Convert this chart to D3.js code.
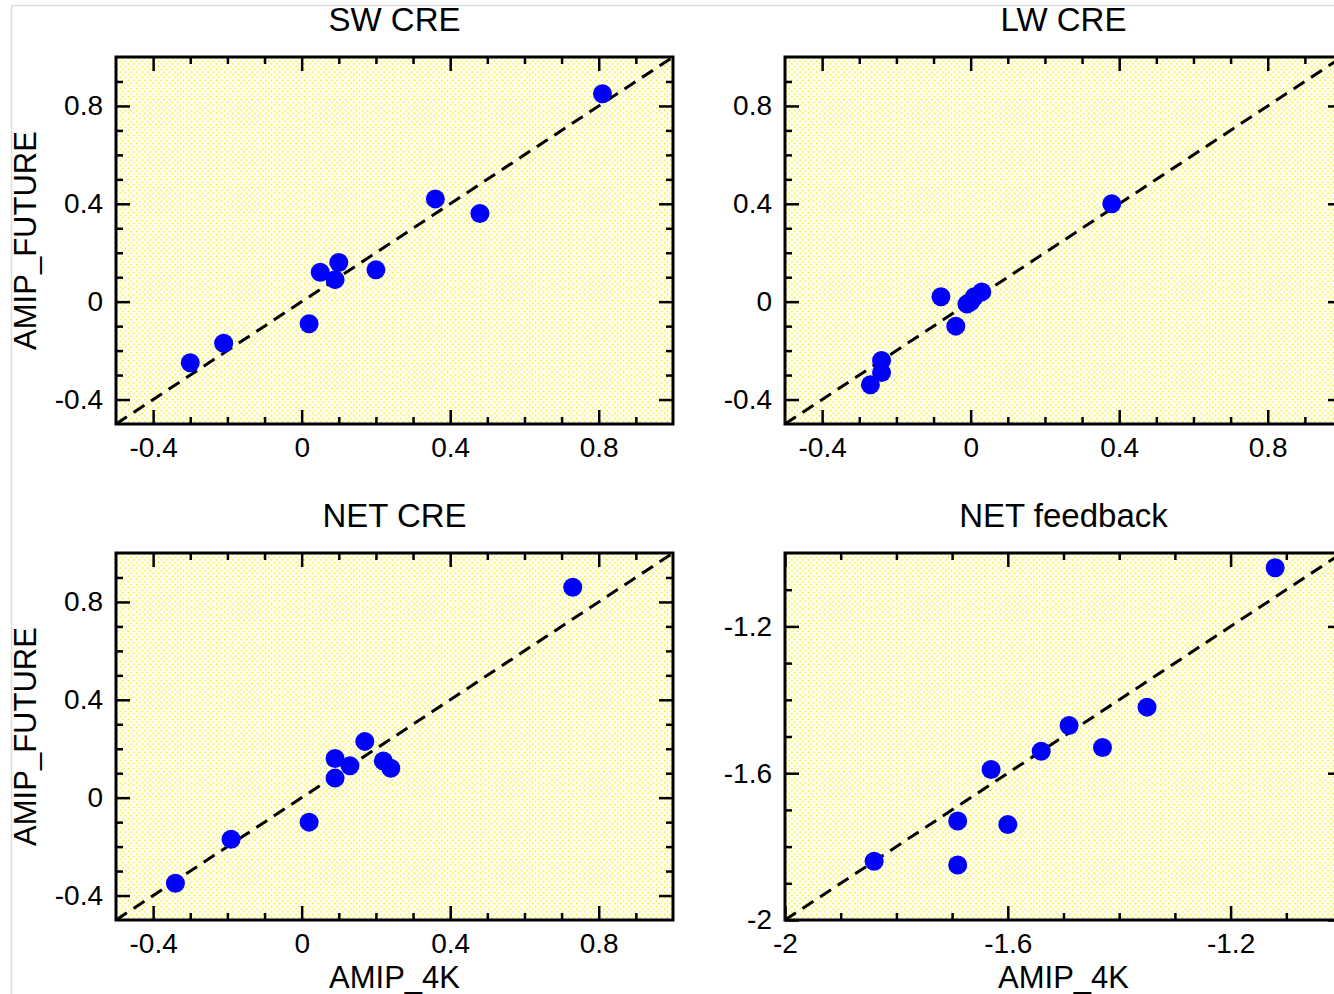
<!DOCTYPE html>
<html>
<head>
<meta charset="utf-8">
<script src="https://cdn.jsdelivr.net/npm/d3@7"></script>
<style>
  html, body { margin: 0; padding: 0; background: #fff; }
  svg { display: block; font-family: "Liberation Sans", Arial, Helvetica, sans-serif; }
</style>
</head>
<body>
<svg id="chart" width="1334" height="994"></svg>
<script>
// Cloud radiative effect changes: AMIP_4K (x) vs AMIP_FUTURE (y)
const panelTitles = ["SW CRE", "LW CRE", "NET CRE", "NET feedback"];

const swX  = [-0.30, -0.21, 0.02, 0.05, 0.10, 0.09, 0.20, 0.36, 0.48, 0.81];
const swY  = [-0.25, -0.17, -0.09, 0.12, 0.16, 0.09, 0.13, 0.42, 0.36, 0.85];

const lwX  = [-0.08, -0.01, 0.01, 0.03, 0.00, -0.04, -0.24, -0.24, -0.27, 0.38];
const lwY  = [0.02, -0.01, 0.02, 0.04, 0.00, -0.10, -0.24, -0.29, -0.34, 0.40];

const netX = [-0.34, -0.19, 0.02, 0.09, 0.09, 0.13, 0.17, 0.22, 0.24, 0.73];
const netY = [-0.35, -0.17, -0.10, 0.16, 0.08, 0.13, 0.23, 0.15, 0.12, 0.86];

const fbX  = [-1.84, -1.69, -1.69, -1.60, -1.63, -1.54, -1.49, -1.43, -1.35, -1.12];
const fbY  = [-1.84, -1.73, -1.85, -1.74, -1.59, -1.54, -1.47, -1.53, -1.42, -1.04];

const creDomain = [-0.5, 1.0];
const fbDomain  = [-2.0, -1.0];
const creMajorTicks = [-0.4, 0, 0.4, 0.8];
const fbMajorTicks  = [-2, -1.6, -1.2];
const minorStep = 0.1;

const xLabel = "AMIP_4K";
const yLabel = "AMIP_FUTURE";

const svg = d3.select("#chart");

// Yellow stipple fill used behind every panel
const defs = svg.append("defs");
const pat = defs.append("pattern")
  .attr("id", "stipple")
  .attr("patternUnits", "userSpaceOnUse")
  .attr("width", 5.5).attr("height", 5.5);
pat.append("rect").attr("width", 5.5).attr("height", 5.5).attr("fill", "#ffffff");
pat.append("circle").attr("cx", 1.4).attr("cy", 1.4).attr("r", 0.95).attr("fill", "#f6f000");
pat.append("circle").attr("cx", 4.15).attr("cy", 4.15).attr("r", 0.95).attr("fill", "#f6f000");

// Thin light frame around the figure
svg.append("rect")
  .attr("x", 11.5).attr("y", 5.5)
  .attr("width", 1400).attr("height", 1100)
  .attr("fill", "none").attr("stroke", "#dddddd").attr("stroke-width", 1.5);

const panels = [
  { title: panelTitles[0], xs: swX,  ys: swY,  domain: creDomain, major: creMajorTicks, left: 116, top: 57,  showY: true,  showX: false },
  { title: panelTitles[1], xs: lwX,  ys: lwY,  domain: creDomain, major: creMajorTicks, left: 785, top: 57,  showY: false, showX: false },
  { title: panelTitles[2], xs: netX, ys: netY, domain: creDomain, major: creMajorTicks, left: 116, top: 553, showY: true,  showX: true },
  { title: panelTitles[3], xs: fbX,  ys: fbY,  domain: fbDomain,  major: fbMajorTicks,  left: 785, top: 553, showY: false, showX: true }
];

const W = 557, H = 367;
const majorLen = 14, minorLen = 7;
const fmt = d => String(+(+d).toFixed(1));

function minorTicks(domain, major) {
  const out = [];
  const n = Math.round((domain[1] - domain[0]) / minorStep);
  for (let i = 1; i < n; i++) {
    const v = +(domain[0] + i * minorStep).toFixed(2);
    if (!major.some(m => Math.abs(m - v) < 1e-6)) out.push(v);
  }
  return out;
}

panels.forEach(p => {
  const g = svg.append("g").attr("transform", `translate(${p.left},${p.top})`);
  const x = d3.scaleLinear().domain(p.domain).range([0, W]);
  const y = d3.scaleLinear().domain(p.domain).range([H, 0]);
  const minors = minorTicks(p.domain, p.major);

  g.append("rect").attr("width", W).attr("height", H).attr("fill", "url(#stipple)");

  // 1:1 reference line
  g.append("line")
    .attr("x1", x(p.domain[0])).attr("y1", y(p.domain[0]))
    .attr("x2", x(p.domain[1])).attr("y2", y(p.domain[1]))
    .attr("stroke", "#000").attr("stroke-width", 3)
    .attr("stroke-dasharray", "13,8");

  // scatter points
  g.selectAll("circle.pt")
    .data(p.xs.map((v, i) => [v, p.ys[i]]))
    .join("circle")
    .attr("class", "pt")
    .attr("cx", d => x(d[0])).attr("cy", d => y(d[1]))
    .attr("r", 9.5).attr("fill", "#0000ff");

  // inward ticks on all four sides
  const sides = [
    { make: () => d3.axisBottom(x), tr: `translate(0,${H})`, labels: true,  pad: 13 },
    { make: () => d3.axisTop(x),    tr: `translate(0,0)`,    labels: false, pad: 13 },
    { make: () => d3.axisLeft(y),   tr: `translate(0,0)`,    labels: true,  pad: 13 },
    { make: () => d3.axisRight(y),  tr: `translate(${W},0)`, labels: false, pad: 13 }
  ];
  sides.forEach(s => {
    const gMaj = g.append("g").attr("transform", s.tr)
      .call(s.make().tickValues(p.major).tickSize(-majorLen).tickPadding(s.pad)
        .tickFormat(s.labels ? fmt : () => ""));
    gMaj.select(".domain").remove();
    gMaj.selectAll(".tick line").attr("stroke", "#000").attr("stroke-width", 2.5);
    gMaj.selectAll(".tick text").attr("fill", "#000").attr("font-size", 28)
      .attr("font-family", "'Liberation Sans', Arial, sans-serif");

    const gMin = g.append("g").attr("transform", s.tr)
      .call(s.make().tickValues(minors).tickSize(-minorLen).tickFormat(() => ""));
    gMin.select(".domain").remove();
    gMin.selectAll(".tick line").attr("stroke", "#000").attr("stroke-width", 2.5);
  });

  // frame
  g.append("rect").attr("width", W).attr("height", H)
    .attr("fill", "none").attr("stroke", "#000").attr("stroke-width", 3);

  // panel title
  svg.append("text")
    .attr("x", p.left + W / 2).attr("y", p.top - 26)
    .attr("text-anchor", "middle").attr("font-size", 33).attr("fill", "#000")
    .text(p.title);

  if (p.showY) {
    svg.append("text")
      .attr("transform", `translate(${p.left - 80},${p.top + H / 2}) rotate(-90)`)
      .attr("text-anchor", "middle").attr("font-size", 31).attr("fill", "#000")
      .text(yLabel);
  }
  if (p.showX) {
    svg.append("text")
      .attr("x", p.left + W / 2).attr("y", p.top + H + 68)
      .attr("text-anchor", "middle").attr("font-size", 31).attr("fill", "#000")
      .text(xLabel);
  }
});
</script>
</body>
</html>
